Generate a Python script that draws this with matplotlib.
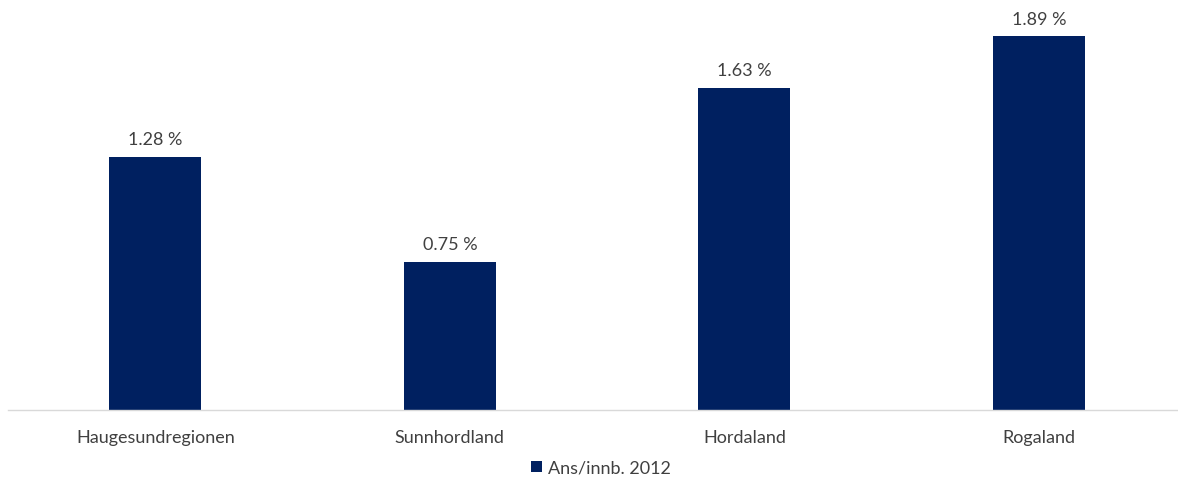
import matplotlib
matplotlib.use("Agg")
import matplotlib.pyplot as plt

categories = ["Haugesundregionen", "Sunnhordland", "Hordaland", "Rogaland"]
values = [1.28, 0.75, 1.63, 1.89]
labels = ["1.28 %", "0.75 %", "1.63 %", "1.89 %"]
series_name = "Ans/innb. 2012"

W, H = 1178, 482
fig = plt.figure(figsize=(W / 100, H / 100), dpi=100)
plt.rcParams['font.family'] = ['Lato', 'DejaVu Sans']

left = 8.1 / W
width = 4 * 294.5 / W
bottom = 72 / H
height = 395.6 / H
ax = fig.add_axes([left, bottom, width, height])

bar_color = "#002060"
text_color = "#404040"
fs = 13
x = list(range(len(categories)))
bars = ax.bar(x, values, width=0.3125, color=bar_color, label=series_name)
ax.set_xlim(-0.5, len(categories) - 0.5)
ax.set_ylim(0, 2.0)

for xi, v, lab in zip(x, values, labels):
    ax.annotate(lab, (xi, v), xytext=(0, 6), textcoords="offset points",
                ha="center", va="bottom", fontsize=fs, color=text_color)

for s in ["top", "right", "left"]:
    ax.spines[s].set_visible(False)
ax.spines["bottom"].set_color("#d9d9d9")
ax.spines["bottom"].set_linewidth(1.0)
ax.set_yticks([])
ax.set_xticks(x)
ax.set_xticklabels(categories, fontsize=fs, color=text_color)
ax.tick_params(axis="x", length=0, pad=14.5)

fig.legend(handles=[bars], labels=[series_name], loc="center",
           bbox_to_anchor=(601 / W, 1 - 468 / H), frameon=False,
           fontsize=fs, handlelength=0.6, handleheight=0.6, handletextpad=0.3,
           labelcolor=text_color)

fig.savefig("out.png", dpi=100)
